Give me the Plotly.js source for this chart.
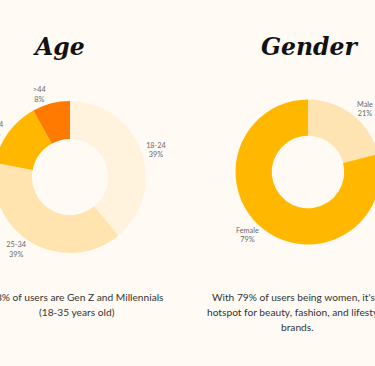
<!DOCTYPE html>
<html>
<head>
<meta charset="utf-8">
<script src="https://cdn.plot.ly/plotly-3.0.1.min.js"></script>
<style>
  html, body { margin: 0; padding: 0; background: #FFFBF4; overflow: hidden; width: 375px; height: 366px; }
  #chart { position: absolute; left: -30px; top: 0; width: 440px; height: 366px; }
</style>
</head>
<body>
<div id="chart"></div>
<script>
// ---- Data ----
const ageLabels = ["18-24", "25-34", "35-44", ">44"];
const ageValues = [39, 39, 14, 8];
const ageColors = ["#FFF3DE", "#FFE4B0", "#FFB700", "#FF7A00"];

const genderLabels = ["Male", "Female"];
const genderValues = [21, 79];
const genderColors = ["#FFE4B3", "#FFB700"];

const titleAge = "Age";
const titleGender = "Gender";
const captionAge = ["78% of users are Gen Z and Millennials", "(18-35 years old)"];
const captionGender = ["With 79% of users being women, it's", "hotspot for beauty, fashion, and lifestyle", "brands."];

// ---- Layout helpers (page pixels -> paper) ----
const W = 440, H = 366, OFF = 30;
const px = x => (x + OFF) / W;
const py = y => 1 - y / H;

const labelFont = { family: "Lato, 'Open Sans', sans-serif", size: 7.3, color: "#6a6a6a" };

const traces = [
  {
    type: "pie",
    labels: ageLabels,
    values: ageValues,
    marker: { colors: ageColors },
    hole: 0.5,
    sort: false,
    direction: "clockwise",
    rotation: 0,
    textposition: "outside",
    texttemplate: "%{label}<br>%{value}%",
    textfont: labelFont,
    domain: { x: [px(-6), px(146)], y: [py(253), py(101)] },
    showlegend: false,
    hoverinfo: "label+value"
  },
  {
    type: "pie",
    labels: genderLabels,
    values: genderValues,
    marker: { colors: genderColors },
    hole: 0.5,
    sort: false,
    direction: "clockwise",
    rotation: 0,
    textposition: "outside",
    texttemplate: "%{label}<br>%{value}%",
    textfont: labelFont,
    domain: { x: [px(235.5), px(380.5)], y: [py(244.5), py(99.5)] },
    showlegend: false,
    hoverinfo: "label+value"
  }
];

const titleFont = { family: "'DejaVu Serif', serif", size: 23.5, color: "#111" };
const capFont = { family: "Lato, 'Open Sans', sans-serif", size: 10.2, color: "#333" };

const annotations = [
  { text: "<b><i>" + titleAge + "</i></b>", x: px(59), y: py(47), xref: "paper", yref: "paper", xanchor: "center", yanchor: "middle", showarrow: false, font: titleFont },
  { text: "<b><i>" + titleGender + "</i></b>", x: px(309.5), y: py(47), xref: "paper", yref: "paper", xanchor: "center", yanchor: "middle", showarrow: false, font: titleFont },
  { text: captionAge[0], x: px(166), y: py(297), xref: "paper", yref: "paper", xanchor: "right", yanchor: "middle", showarrow: false, font: capFont },
  { text: captionAge[1], x: px(77), y: py(312), xref: "paper", yref: "paper", xanchor: "center", yanchor: "middle", showarrow: false, font: capFont },
  { text: captionGender[0], x: px(210), y: py(297), xref: "paper", yref: "paper", xanchor: "left", yanchor: "middle", showarrow: false, font: capFont },
  { text: captionGender[1], x: px(205), y: py(312), xref: "paper", yref: "paper", xanchor: "left", yanchor: "middle", showarrow: false, font: capFont },
  { text: captionGender[2], x: px(297), y: py(327), xref: "paper", yref: "paper", xanchor: "center", yanchor: "middle", showarrow: false, font: capFont }
];

const layout = {
  width: W,
  height: H,
  margin: { l: 0, r: 0, t: 0, b: 0 },
  paper_bgcolor: "#FFFBF4",
  plot_bgcolor: "#FFFBF4",
  annotations: annotations,
  showlegend: false
};

Plotly.newPlot("chart", traces, layout, { displayModeBar: false, staticPlot: true });
</script>
</body>
</html>
